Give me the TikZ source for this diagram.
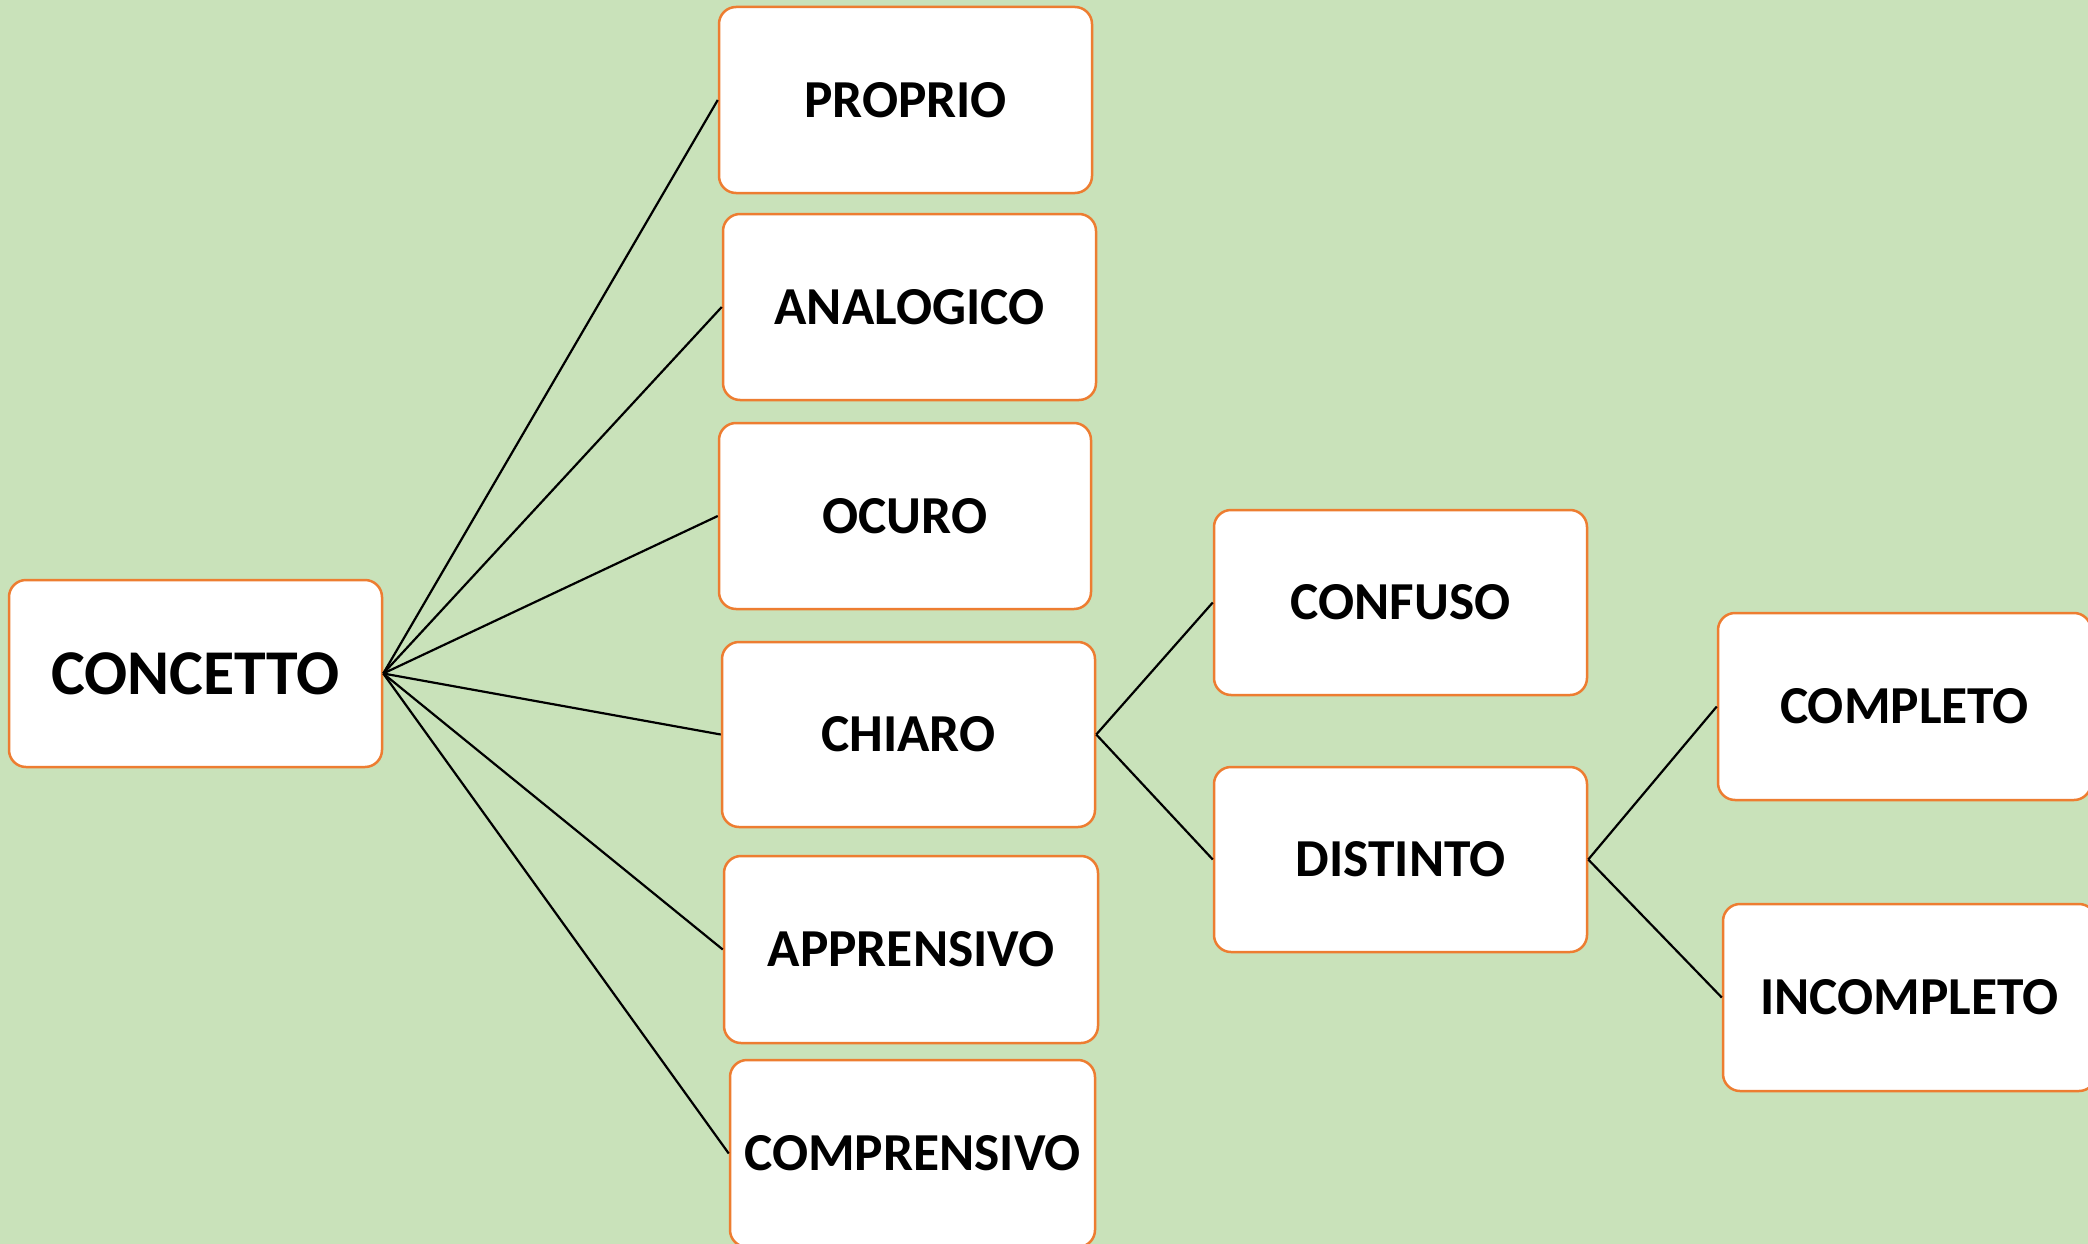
\documentclass[tikz,border=0pt]{standalone}
\usepackage{fontspec}
\setmainfont{Carlito}
\definecolor{bggreen}{HTML}{C9E2BA}
\definecolor{boxorange}{HTML}{ED7D31}
\begin{document}
\begin{tikzpicture}[x=1pt,y=-1pt,
  box/.style={draw=boxorange, line width=2.5pt, fill=white, rounded corners=17pt,
    inner sep=0pt, minimum width=373pt, minimum height=186pt,
    font=\fontsize{53.4}{62}\selectfont\bfseries, align=center},
  link/.style={draw=black, line width=2.2pt}]
\clip (0,0) rectangle (2088,1244);
\fill[bggreen] (0,0) rectangle (2088,1244);
\useasboundingbox (0,0) rectangle (2088,1244);
% nodes
\node[box, minimum height=187pt, font=\fontsize{63.8}{74}\selectfont\bfseries] (concetto) at (195.5,673.5) {CONCETTO};
\node[box] (proprio) at (905.5,100) {PROPRIO};
\node[box] (analogico) at (909.5,307) {ANALOGICO};
\node[box, minimum width=372pt] (ocuro) at (905,516) {OCURO};
\node[box, minimum height=185pt] (chiaro) at (908.5,734.5) {CHIARO};
\node[box, minimum width=374pt, minimum height=187pt] (apprensivo) at (911,949.5) {APPRENSIVO};
\node[box, minimum width=365pt, minimum height=187pt] (comprensivo) at (912.5,1153.5) {COMPRENSIVO};
\node[box, minimum height=185pt] (confuso) at (1400.5,602.5) {CONFUSO};
\node[box, minimum height=185pt] (distinto) at (1400.5,859.5) {DISTINTO};
\node[box, minimum height=187pt] (completo) at (1904.5,706.5) {COMPLETO};
\node[box, minimum height=187pt] (incompleto) at (1909.5,997.5) {INCOMPLETO};
% connectors
\draw[link] (concetto.east) -- (proprio.west);
\draw[link] (concetto.east) -- (analogico.west);
\draw[link] (concetto.east) -- (ocuro.west);
\draw[link] (concetto.east) -- (chiaro.west);
\draw[link] (concetto.east) -- (apprensivo.west);
\draw[link] (concetto.east) -- (comprensivo.west);
\draw[link] (chiaro.east) -- (confuso.west);
\draw[link] (chiaro.east) -- (distinto.west);
\draw[link] (distinto.east) -- (completo.west);
\draw[link] (distinto.east) -- (incompleto.west);
\end{tikzpicture}
\end{document}
